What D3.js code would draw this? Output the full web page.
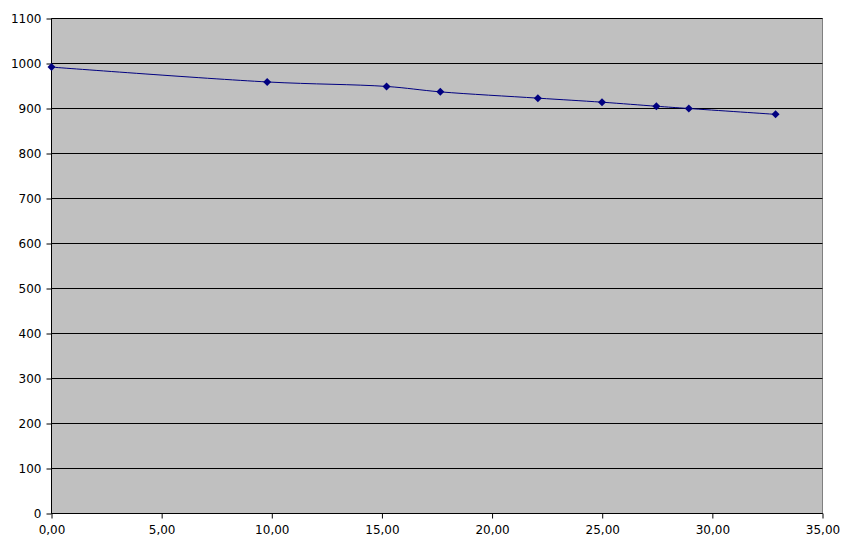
<!DOCTYPE html>
<html><head><meta charset="utf-8">
<script src="https://cdn.jsdelivr.net/npm/d3@7"></script>
<style>body{margin:0;background:#fff}svg{display:block}text{font-family:"DejaVu Sans",sans-serif;font-size:12px;fill:#000}</style>
</head><body><svg id="c" width="866" height="548"></svg>
<script>
const xValues = [0, 9.79, 15.21, 17.65, 22.08, 24.99, 27.46, 28.93, 32.87];
const yValues = [992, 959, 949, 937, 923, 914, 905, 900, 887];
const xTicks = [0, 5, 10, 15, 20, 25, 30, 35];
const yTicks = [0, 100, 200, 300, 400, 500, 600, 700, 800, 900, 1000, 1100];

const svg = d3.select("#c");
const L = 51.5, R = 822.5, T = 18.5, B = 513.5;
const x = d3.scaleLinear().domain([0, 35]).range([L, R]);
const y = d3.scaleLinear().domain([0, 1100]).range([B, T]);

svg.append("rect").attr("x", L).attr("y", T).attr("width", R - L).attr("height", B - T)
  .attr("fill", "#c0c0c0").attr("stroke", "#808080");

svg.append("g").selectAll("line").data(yTicks).join("line")
  .attr("x1", L).attr("x2", R).attr("y1", d => y(d)).attr("y2", d => y(d))
  .attr("stroke", "#000").attr("stroke-width", 1);

const yAxis = svg.append("g").attr("transform", `translate(${L},0)`)
  .call(d3.axisLeft(y).tickValues(yTicks).tickSize(5).tickPadding(5).tickFormat(d3.format("d")));
const xAxis = svg.append("g").attr("transform", `translate(0,${B})`)
  .call(d3.axisBottom(x).tickValues(xTicks).tickSize(5).tickPadding(7).tickFormat(d => d.toFixed(2).replace(".", ",")));
[yAxis, xAxis].forEach(a => {
  a.selectAll("text").style("font-family", "DejaVu Sans").style("font-size", "12px").attr("fill", "#000");
  a.selectAll("line,path").attr("stroke", "#000");
});
yAxis.select(".domain").attr("d", `M0,${T}V${B}`);
xAxis.select(".domain").attr("d", `M${L},0H${R}`);

const pts = xValues.map((v, i) => [v, yValues[i]]);
svg.append("path").datum(pts)
  .attr("d", d3.line().x(d => x(d[0])).y(d => y(d[1])).curve(d3.curveCatmullRom))
  .attr("fill", "none").attr("stroke", "#000080").attr("stroke-width", 1);

svg.append("g").selectAll("path").data(pts).join("path")
  .attr("transform", d => `translate(${x(d[0])},${y(d[1])})`)
  .attr("d", "M0,-4L4,0L0,4L-4,0Z").attr("fill", "#000080");
</script></body></html>
